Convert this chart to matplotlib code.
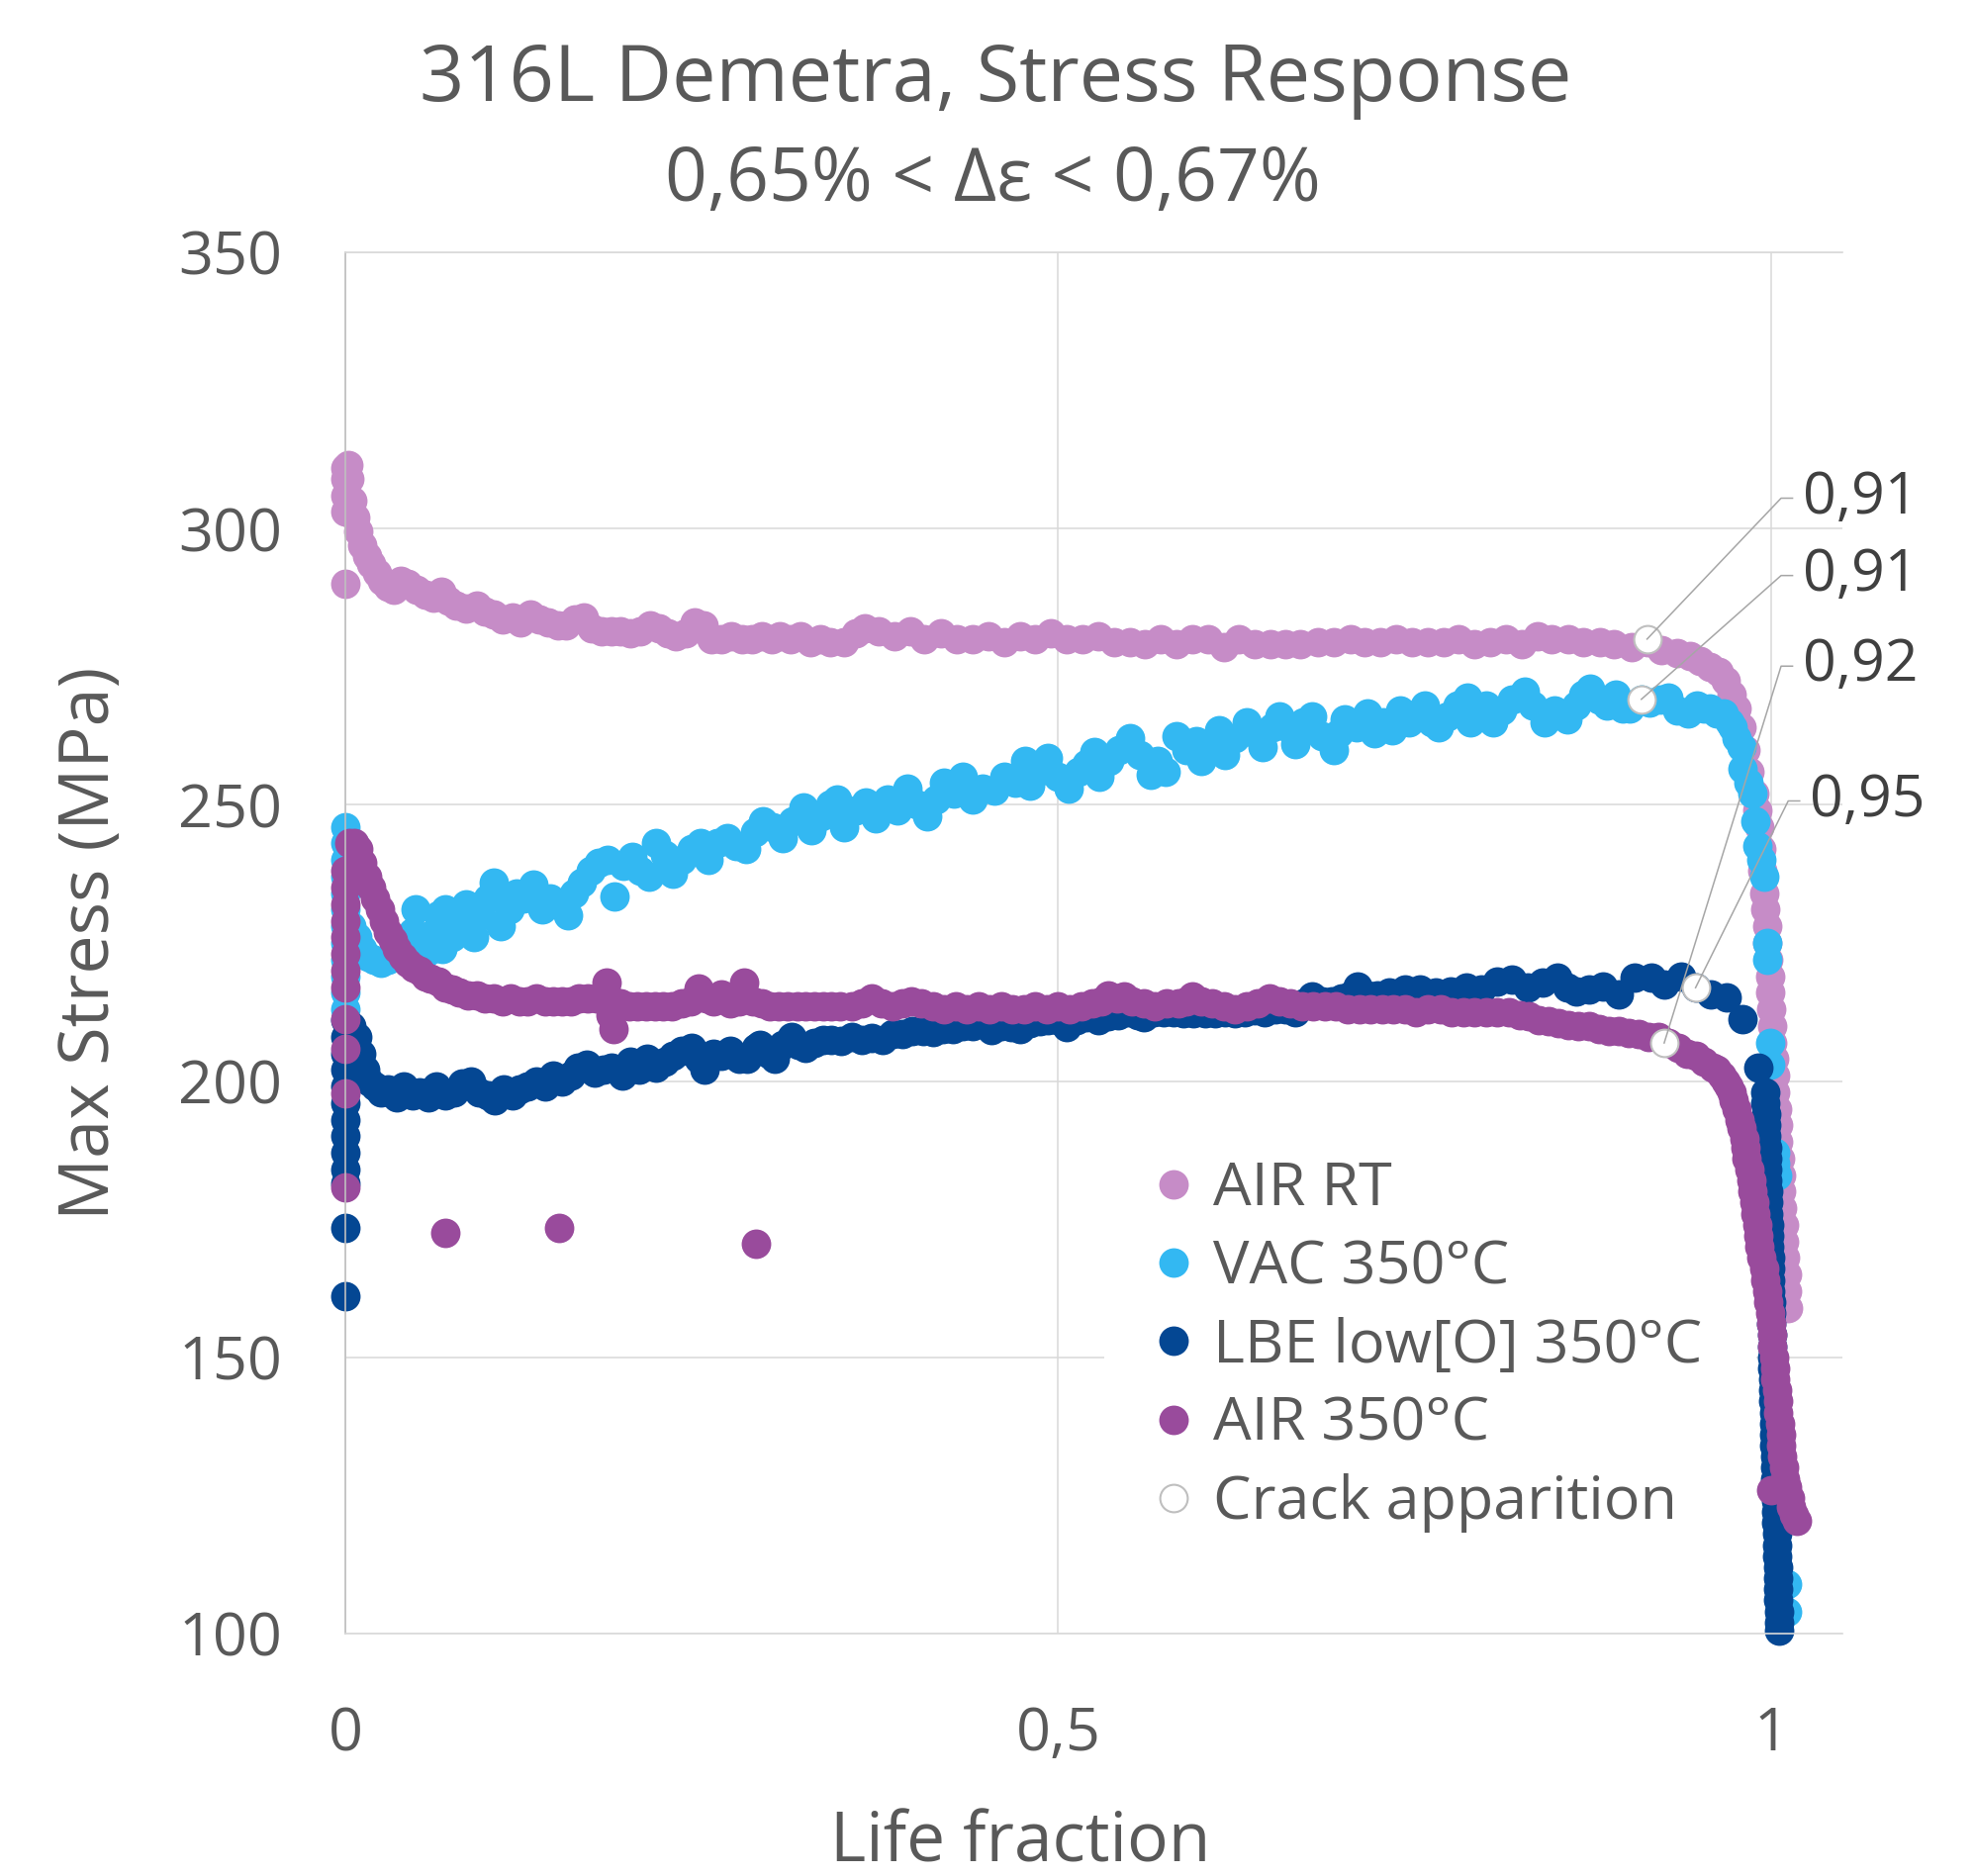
import matplotlib
matplotlib.use('Agg')
import matplotlib.pyplot as plt

plt.rcParams['font.family'] = ['Open Sans', 'DejaVu Sans']

# ---- data ----
series_names = ['AIR RT', 'VAC 350°C', 'LBE low[O] 350°C', 'AIR 350°C', 'Crack apparition']

air_rt_x = [0, 0, 0, 0, 0, 0.002, 0.003,
            0.005, 0.007, 0.009, 0.012, 0.015, 0.018, 0.022, 0.026, 0.030, 0.034, 0.039, 0.044,
            0.050, 0.056, 0.062, 0.067, 0.072, 0.078, 0.085, 0.092, 0.098, 0.104, 0.110, 0.117,
            0.123, 0.130, 0.136, 0.142, 0.149, 0.155, 0.161, 0.167, 0.173, 0.180, 0.187, 0.193,
            0.200, 0.207, 0.214, 0.220, 0.226, 0.232, 0.239, 0.245, 0.251, 0.257, 0.264, 0.271,
            0.278, 0.285, 0.292, 0.299, 0.305, 0.312, 0.319, 0.326, 0.333, 0.340, 0.350, 0.358,
            0.364, 0.374, 0.385, 0.396, 0.406, 0.418, 0.429, 0.440, 0.451, 0.462, 0.473, 0.484,
            0.495, 0.506, 0.517, 0.528, 0.539, 0.550, 0.561, 0.572, 0.583, 0.594, 0.605, 0.616,
            0.627, 0.638, 0.649, 0.659, 0.670, 0.682, 0.693, 0.705, 0.715, 0.726, 0.737, 0.748,
            0.759, 0.770, 0.781, 0.792, 0.803, 0.814, 0.825, 0.836, 0.846, 0.858, 0.868, 0.880,
            0.890, 0.902, 0.913, 0.923, 0.934, 0.943, 0.950, 0.957, 0.963, 0.968, 0.972, 0.976,
            0.979, 0.982, 0.985, 0.988, 0.990, 0.992, 0.993, 0.994, 0.995, 0.996, 0.997, 0.997,
            0.998, 0.999, 0.999, 1.000, 1.001, 1.001, 1.002, 1.003, 1.003, 1.004, 1.005, 1.005,
            1.006, 1.007, 1.007, 1.008, 1.009, 1.009, 1.010, 1.011, 1.011, 1.012]
air_rt_y = [290, 303, 306, 309, 311, 311.5, 309,
            305, 302, 299.5, 297, 295, 293.5, 292, 290.5, 289.5, 289, 290.5, 290,
            289, 288, 287.5, 288.5, 287, 286, 285.5, 286, 285, 284.5, 283.5, 284,
            283, 284.5, 283.5, 283, 282.5, 282.5, 283.5, 284, 282, 281.5, 281.5, 281.5,
            281, 281.5, 282.5, 282, 281, 280.5, 281, 283, 282.5, 280, 280, 280.5,
            280, 280, 280.5, 280, 280.5, 280, 280.5, 279.5, 280, 279.5, 279.5, 281,
            282, 281.5, 280.5, 281.5, 280, 281, 280, 280, 280.5, 279.5, 280.5, 280,
            281, 280, 280, 280.5, 279.5, 279.5, 279, 280, 279, 280, 280, 278.5,
            280, 279, 279, 279, 279, 279.5, 279.5, 280, 279.5, 279.5, 280, 279.5,
            279.5, 279.5, 280, 279, 279.5, 280, 279, 280.5, 280, 280, 279.5, 279.5,
            279, 278.5, 279.5, 278, 277.5, 277, 276, 275, 274, 272.5, 270, 267.5,
            264, 260, 256, 252, 249, 246, 242, 238, 234, 231, 228, 225,
            222, 219, 216, 213, 210, 207, 204, 201, 198, 195, 192, 189,
            186, 183, 180, 177, 174, 171, 168, 165, 162, 159]

vac_x = [0, 0, 0, 0, 0, 0, 0, 0, 0, 0, 0, 0,
         0.004, 0.008, 0.012, 0.016, 0.020, 0.025, 0.030, 0.035, 0.040, 0.045, 0.047, 0.049,
         0.054, 0.058, 0.060, 0.065, 0.068, 0.070, 0.075, 0.080, 0.085, 0.090, 0.095, 0.100,
         0.104, 0.109, 0.115, 0.120, 0.125, 0.132, 0.138, 0.144, 0.150, 0.156, 0.160, 0.166,
         0.172, 0.178, 0.184, 0.189, 0.195, 0.201, 0.207, 0.213, 0.218, 0.224, 0.230, 0.236,
         0.243, 0.249, 0.255, 0.261, 0.268, 0.274, 0.281, 0.287, 0.293, 0.300, 0.307, 0.314,
         0.321, 0.327, 0.334, 0.340, 0.345, 0.350, 0.358, 0.365, 0.372, 0.380, 0.387, 0.394,
         0.401, 0.408, 0.414, 0.420, 0.427, 0.433, 0.440, 0.447, 0.455, 0.462, 0.470, 0.477,
         0.480, 0.486, 0.493, 0.500, 0.507, 0.514, 0.520, 0.525, 0.529, 0.536, 0.543, 0.550,
         0.557, 0.565, 0.570, 0.575, 0.583, 0.590, 0.597, 0.600, 0.607, 0.613, 0.617, 0.624,
         0.632, 0.638, 0.643, 0.650, 0.655, 0.661, 0.666, 0.672, 0.678, 0.685, 0.693, 0.697,
         0.701, 0.709, 0.717, 0.722, 0.728, 0.734, 0.740, 0.746, 0.752, 0.757, 0.762, 0.767,
         0.773, 0.780, 0.787, 0.789, 0.795, 0.800, 0.805, 0.811, 0.818, 0.827, 0.833, 0.841,
         0.848, 0.857, 0.863, 0.868, 0.873, 0.879, 0.885, 0.891, 0.896, 0.901, 0.909, 0.915,
         0.922, 0.928, 0.934, 0.942, 0.948, 0.953, 0.957, 0.962, 0.967, 0.971, 0.973, 0.976,
         0.979, 0.980, 0.984, 0.987, 0.989, 0.990, 0.993, 0.995, 0.997, 0.997, 0.999, 0.999,
         1.003, 1.003, 1.004, 1.011, 1.011]
vac_y = [246, 243, 240, 237, 234, 231, 228, 225, 222, 219, 216, 213,
         228, 226, 224, 222.5, 222, 221.5, 222, 223, 224, 224, 227, 231,
         226, 223.5, 226.5, 230, 224, 231, 226, 229, 232, 226, 230, 233,
         236, 228, 231, 234, 233, 235.5, 231, 233, 232, 230, 234, 236,
         238, 239.5, 240, 233.5, 239, 240.5, 238, 237, 243, 241, 237.5, 240,
         242, 243, 240, 243, 244, 242.5, 242, 245, 247, 246, 244, 247,
         249.5, 245.5, 248, 250, 251, 246, 249, 250.5, 247.5, 251, 249, 253,
         250, 248, 251, 254, 252, 255, 251, 253, 252.5, 255, 254, 258,
         253.5, 256, 258.5, 255, 253, 256, 257.5, 259.5, 255, 258, 260, 262,
         259, 255.5, 258, 256, 262.5, 260, 261.5, 258, 261, 263.5, 259, 262,
         265, 263, 260.5, 264, 266, 264, 261, 265, 266, 262.5, 260, 263,
         265.5, 264, 266.5, 263, 265, 263.5, 267, 265, 266.5, 268, 265, 264,
         266, 268, 269.5, 265, 267, 268, 265, 267, 269, 270.5, 268, 265,
         267, 265.5, 268, 270, 271, 269, 268, 270, 267.5, 267.5, 269, 268.5,
         269, 269.5, 267, 266.5, 268, 267.5, 267.5, 266.5, 266.5, 265, 264, 262,
         260.5, 256.5, 254, 252, 247, 242.5, 240, 237, 225, 222, 207, 203,
         187, 185, 183, 109, 104]

lbe_x = [0, 0, 0, 0, 0, 0, 0, 0, 0, 0, 0, 0, 0,
         0.004, 0.008, 0.011, 0.014, 0.017, 0.021, 0.025, 0.030, 0.036, 0.041, 0.047, 0.052,
         0.058, 0.064, 0.070, 0.076, 0.082, 0.088, 0.094, 0.100, 0.105, 0.111, 0.117, 0.122,
         0.128, 0.134, 0.140, 0.146, 0.152, 0.158, 0.163, 0.169, 0.175, 0.181, 0.187, 0.194,
         0.200, 0.206, 0.212, 0.218, 0.224, 0.230, 0.236, 0.243, 0.248, 0.252, 0.258, 0.264,
         0.270, 0.276, 0.282, 0.288, 0.291, 0.297, 0.301, 0.307, 0.313, 0.318, 0.323, 0.329,
         0.335, 0.341, 0.348, 0.355, 0.362, 0.369, 0.377, 0.384, 0.391, 0.398, 0.405, 0.412,
         0.419, 0.426, 0.433, 0.440, 0.447, 0.453, 0.460, 0.467, 0.473, 0.480, 0.487, 0.493,
         0.500, 0.506, 0.513, 0.520, 0.528, 0.535, 0.542, 0.549, 0.556, 0.560, 0.567, 0.574,
         0.581, 0.588, 0.595, 0.603, 0.610, 0.617, 0.624, 0.631, 0.638, 0.645, 0.652, 0.659,
         0.666, 0.672, 0.678, 0.685, 0.692, 0.699, 0.705, 0.710, 0.717, 0.724, 0.732, 0.743,
         0.754, 0.765, 0.775, 0.786, 0.797, 0.808, 0.818, 0.829, 0.840, 0.850, 0.857, 0.863,
         0.872, 0.882, 0.893, 0.904, 0.916, 0.925, 0.937, 0.947, 0.958, 0.969, 0.980, 0.991,
         0.9960, 0.9962, 0.9964, 0.9966, 0.9968, 0.9970, 0.9972, 0.9974, 0.9976, 0.9978,
         0.9980, 0.9982, 0.9984, 0.9986, 0.9988, 0.9990, 0.9992, 0.9994, 0.9996, 0.9998,
         1.0000, 1.0002, 1.0004, 1.0006, 1.0008, 1.0010, 1.0012, 1.0014, 1.0016, 1.0018,
         1.0020, 1.0022, 1.0024, 1.0026, 1.0028, 1.0030, 1.0032, 1.0034, 1.0036, 1.0038,
         1.0040, 1.0042, 1.0044, 1.0046, 1.0048, 1.0050, 1.0052, 1.0054, 1.0056, 1.0058]
lbe_y = [211, 208, 205, 202, 199, 196, 193, 190, 187, 184, 181.5, 173.5, 161,
         210, 208, 205, 202, 200, 199, 198, 198.5, 197, 199, 197.5, 198,
         197, 199, 197.5, 198, 199.5, 200, 198, 197.5, 196.5, 198.5, 197.5, 198.5,
         199, 200, 199, 201, 200, 201, 202.5, 203, 201.5, 202, 202.5, 201,
         203.5, 202, 204, 202.5, 203.5, 204.5, 205.5, 206, 204, 202, 205, 204.5,
         205.5, 204, 204, 206, 206.5, 205, 204, 206.5, 208, 206.5, 206, 207,
         207.5, 207.5, 207.3, 208, 207.5, 207.8, 207.5, 208.5, 208.5, 209, 209, 208.9,
         209.5, 209.5, 210, 210, 210.5, 209.2, 210, 209.8, 209.5, 210.5, 210.8, 211,
         211, 209.8, 211, 211.5, 211, 211.8, 212, 212.5, 212, 211.6, 212.5, 212.5,
         212.5, 212.3, 212.3, 212.2, 212.3, 212.5, 212.3, 212.5, 212.8, 212.5, 213, 213,
         212.5, 214, 215.3, 214.5, 214.5, 215, 215.5, 217.2, 215.5, 215.5, 216, 216.5,
         216.6, 216, 216.3, 217, 216.5, 218.1, 218.4, 217, 217.8, 218.7, 217, 216.3,
         216.6, 217.2, 215.7, 218.7, 218.7, 217.5, 219, 217, 215.7, 215.1, 211.2, 202.5,
         198, 196, 194, 192, 190, 188, 186, 184, 182, 180,
         178, 176, 174, 172, 170, 168, 166, 164, 162, 160,
         158, 156, 154, 152, 150, 148, 146, 144, 142, 140,
         138, 136, 134, 132, 130, 128, 126, 124, 122, 120,
         118, 116, 114, 112, 110, 108, 106, 104, 102, 100.5]

air350_x = [0, 0, 0, 0, 0, 0, 0, 0, 0, 0, 0, 0,
            0.003, 0.006, 0.009, 0.012, 0.015, 0.018, 0.021, 0.024, 0.027, 0.030, 0.033, 0.036,
            0.040, 0.044, 0.048, 0.052, 0.056, 0.060, 0.065, 0.070, 0.075, 0.080, 0.086, 0.092,
            0.098, 0.104, 0.110, 0.116, 0.122, 0.128, 0.134, 0.140, 0.146, 0.152, 0.158, 0.164,
            0.170, 0.176, 0.183, 0.185, 0.186, 0.188, 0.193, 0.199, 0.205, 0.211, 0.217, 0.223,
            0.229, 0.236, 0.242, 0.248, 0.253, 0.258, 0.264, 0.270, 0.276, 0.280, 0.286, 0.292,
            0.298, 0.304, 0.310, 0.317, 0.323, 0.329, 0.335, 0.341, 0.347, 0.355, 0.362, 0.369,
            0.376, 0.384, 0.391, 0.397, 0.404, 0.412, 0.420, 0.428, 0.436, 0.444, 0.452, 0.460,
            0.468, 0.476, 0.484, 0.492, 0.500, 0.508, 0.516, 0.524, 0.530, 0.535, 0.541, 0.546,
            0.552, 0.560, 0.568, 0.576, 0.584, 0.590, 0.594, 0.600, 0.608, 0.616, 0.624, 0.632,
            0.640, 0.648, 0.655, 0.663, 0.671, 0.679, 0.687, 0.695, 0.703, 0.711, 0.719, 0.727,
            0.735, 0.743, 0.751, 0.759, 0.768, 0.776, 0.784, 0.792, 0.800, 0.808, 0.816, 0.824,
            0.830, 0.837, 0.844, 0.851, 0.858, 0.865, 0.872, 0.879, 0.886, 0.893, 0.900, 0.907,
            0.914, 0.921, 0.928, 0.935, 0.941, 0.947, 0.953, 0.959, 0.962, 0.965, 0.968, 0.970,
            0.972, 0.974, 0.976, 0.978, 0.979, 0.981, 0.982, 0.983, 0.985, 0.986, 0.987, 0.988,
            0.989, 0.990, 0.991, 0.992, 0.993, 0.995, 0.996, 0.997, 0.998, 0.999, 1.000, 1.001,
            1.001, 1.002, 1.003, 1.003, 1.004, 1.005, 1.005, 1.006, 1.007, 1.007, 1.008, 1.009,
            1.010, 1.011, 1.013, 1.014, 1.016, 1.018,
            1.000, 0.070, 0.150, 0.288]
air350_y = [238, 235, 232, 229, 226, 223, 220, 217, 211.2, 205.8, 197.8, 180.8,
            243, 243, 242, 239.5, 237, 235, 233, 231, 229, 227, 225.5, 224,
            222.5, 221.5, 220.5, 220, 219, 218.5, 218, 217, 216.5, 216, 215.5, 215.5,
            215, 215, 214.5, 215, 214.5, 214.5, 215, 214.5, 214.5, 214.5, 214.5, 215,
            215, 215, 217.8, 215, 212, 209.4, 214, 213.5, 213.5, 213.5, 213.5, 213.5,
            213.5, 214, 214.5, 216.8, 215, 214.5, 215.6, 214, 214.5, 217.8, 214.5, 214,
            213.5, 213.5, 213.5, 213.5, 213.5, 213.5, 213.5, 213.5, 213.5, 213.5, 214, 215,
            214, 213.5, 214, 214.4, 214, 213.5, 213, 213.5, 213, 213.5, 213, 213.5,
            213, 213, 213.5, 213, 213.5, 213, 213.5, 214, 214.5, 215.5, 215, 215.3,
            214.5, 214, 213.5, 214, 214, 214.5, 215.3, 214.5, 214, 213.5, 213, 213.5,
            214, 215, 214.5, 214, 213.5, 213.5, 213.5, 213.5, 213, 213, 213, 213,
            213, 213, 212.5, 213, 213, 212.5, 212.5, 212.5, 212.5, 212.5, 212.5, 212,
            211.8, 211, 210.8, 210.5, 210.2, 210, 210, 209.5, 209, 209, 208.7, 208.5,
            208, 208, 207, 206, 205, 204.5, 203.5, 202.5, 202, 201, 200, 199,
            198, 196.5, 195, 193, 191.5, 189.5, 188, 186, 184, 182, 180, 178,
            176, 174, 172, 170, 168, 166, 164, 162, 160, 158, 156, 154,
            152, 150, 148, 146, 144, 142, 140, 138, 136, 134, 132, 130,
            128, 126.5, 124.5, 123, 121.5, 120.5,
            126, 172.6, 173.5, 170.5]

crack_x = [0.913, 0.909, 0.925, 0.947]
crack_y = [280, 269.1, 206.9, 216.9]
crack_labels = ['0,91', '0,91', '0,92', '0,95']

y_ticks = [100, 150, 200, 250, 300, 350]
x_ticks = [0, 0.5, 1]
x_tick_labels = ['0', '0,5', '1']

colors = ['#C68CC7', '#33B8F2', '#044793', '#994B9C']
text_color = '#595959'
grid_color = '#D9D9D9'

W, H = 1996, 1896
fig = plt.figure(figsize=(W / 100, H / 100), dpi=100)
ax = fig.add_axes([349 / W, 1 - 1651 / H, (1862 - 349) / W, (1651 - 255) / H])

handles = []
for xs, ys, name, c in zip([air_rt_x, vac_x, lbe_x, air350_x],
                           [air_rt_y, vac_y, lbe_y, air350_y],
                           series_names[:4], colors):
    l, = ax.plot(xs, ys, linestyle='none', marker='o', ms=21.5, mew=0,
                 color=c, label=name, clip_on=False)
    handles.append(l)

cr, = ax.plot(crack_x, crack_y, linestyle='none', marker='o', ms=20,
              mfc='white', mec='#BFBFBF', mew=1.5, label=series_names[4],
              clip_on=False, zorder=4)
handles.append(cr)

# data labels with leader lines (label anchor in data units)
label_pos = [(1.022, 305.5), (1.022, 291.5), (1.022, 275.1), (1.027, 250.7)]
for (cx, cy), (lx, ly), txt in zip(zip(crack_x, crack_y), label_pos, crack_labels):
    ax.plot([cx, lx - 0.015, lx - 0.007], [cy, ly, ly], color='#A6A6A6',
            lw=1.1, clip_on=False, zorder=5)
    ax.text(lx, ly, txt, ha='left', va='center', fontsize=42.5,
            color='#404040', clip_on=False)

ax.set_xlim(0, 1.05)
ax.set_ylim(100, 350)
ax.set_xticks(x_ticks)
ax.set_xticklabels(x_tick_labels)
ax.set_yticks(y_ticks)
ax.grid(True, color=grid_color, lw=1.1)
ax.set_axisbelow(True)
ax.tick_params(length=0, labelsize=44, labelcolor=text_color)
ax.tick_params(axis='x', pad=52)
ax.tick_params(axis='y', pad=46)
ax.spines['right'].set_visible(False)
ax.spines['top'].set_color(grid_color)
ax.spines['bottom'].set_color(grid_color)
ax.spines['left'].set_color('#BFBFBF')
for side in ['top', 'bottom', 'left']:
    ax.spines[side].set_linewidth(1.2)

leg = ax.legend(handles=handles, loc='upper left',
                bbox_to_anchor=(1116 / W, 1 - 1117 / H), bbox_transform=fig.transFigure,
                borderaxespad=0, borderpad=0.9, fontsize=44, labelcolor=text_color,
                handlelength=0.5, handletextpad=0.4, labelspacing=0.316,
                numpoints=1, frameon=True, fancybox=False)
leg.get_frame().set_facecolor('white')
leg.get_frame().set_edgecolor('none')
leg.get_frame().set_alpha(1)
# white box hides the gridline behind it, but stays under the data
leg.set_zorder(1)

fig.text(1006 / W, 1 - 102 / H, '316L Demetra, Stress Response', ha='center',
         va='baseline', fontsize=57, color=text_color)
fig.text(1003 / W, 1 - 203 / H, '0,65% < Δε < 0,67%', ha='center',
         va='baseline', fontsize=54, color=text_color)
fig.text(1031 / W, 1 - 1881 / H, 'Life fraction', ha='center', va='baseline',
         fontsize=50, color=text_color)
fig.text(92 / W, 1 - 953 / H, 'Max Stress (MPa)', ha='center', va='center',
         rotation=90, fontsize=50.5, color=text_color)

plt.savefig('out.png', dpi=100)
